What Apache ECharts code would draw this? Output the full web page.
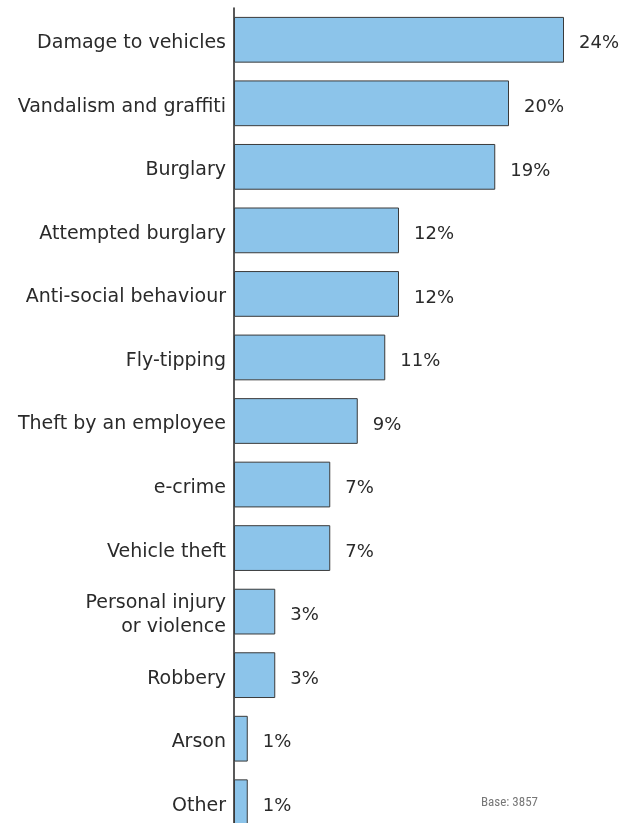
<!DOCTYPE html>
<html>
<head>
<meta charset="utf-8">
<style>
  html, body { margin: 0; padding: 0; background: #ffffff; }
  #chart { width: 636px; height: 823px; }
</style>
<script src="https://cdn.jsdelivr.net/npm/echarts@6/dist/echarts.min.js"></script>
</head>
<body>
<div id="chart"></div>
<script>
// Crime types experienced, top to bottom
const categories = [
  'Damage to vehicles',
  'Vandalism and graffiti',
  'Burglary',
  'Attempted burglary',
  'Anti-social behaviour',
  'Fly-tipping',
  'Theft by an employee',
  'e-crime',
  'Vehicle theft',
  'Personal injury\nor violence',
  'Robbery',
  'Arson',
  'Other'
];
// Share of respondents (%)
const values = [24, 20, 19, 12, 12, 11, 9, 7, 7, 3, 3, 1, 1];
const baseNote = 'Base: 3857';

const FONT = '"DejaVu Sans", "Open Sans", sans-serif';
const chart = echarts.init(document.getElementById('chart'), null, { renderer: 'canvas' });

chart.setOption({
  animation: false,
  backgroundColor: '#ffffff',
  grid: {
    left: 234, top: 8, width: 385, height: 826,
    containLabel: false,
    outerBoundsMode: 'none'
  },
  xAxis: {
    type: 'value',
    min: 0,
    max: 28,
    show: false
  },
  yAxis: {
    type: 'category',
    data: categories,
    inverse: true,
    axisLine: { show: true, lineStyle: { color: '#222222', width: 1.5 } },
    axisTick: { show: false },
    axisLabel: {
      margin: 8,
      align: 'right',
      formatter: v => v.split('\n').map(s => '{c|' + s + '}').join('\n'),
      rich: {
        c: {
          color: '#2a2a2a',
          fontFamily: FONT,
          fontSize: 19,
          lineHeight: 24,
          align: 'right',
          padding: [7, 0, 0, 0]
        }
      }
    }
  },
  series: [{
    type: 'bar',
    data: values,
    barWidth: '72%',
    itemStyle: {
      color: '#8cc4ea',
      borderColor: '#3a3a3a',
      borderWidth: 1
    },
    label: {
      show: true,
      position: 'right',
      distance: 15,
      offset: [0, 4],
      color: '#2a2a2a',
      fontFamily: FONT,
      fontSize: 18,
      formatter: p => p.value + '%'
    }
  }],
  graphic: [{
    type: 'text',
    left: 481,
    top: 796,
    style: {
      text: baseNote,
      fill: '#777777',
      font: '13px "Liberation Sans Narrow", "Roboto Condensed", "Open Sans", sans-serif'
    }
  }]
});
</script>
</body>
</html>
